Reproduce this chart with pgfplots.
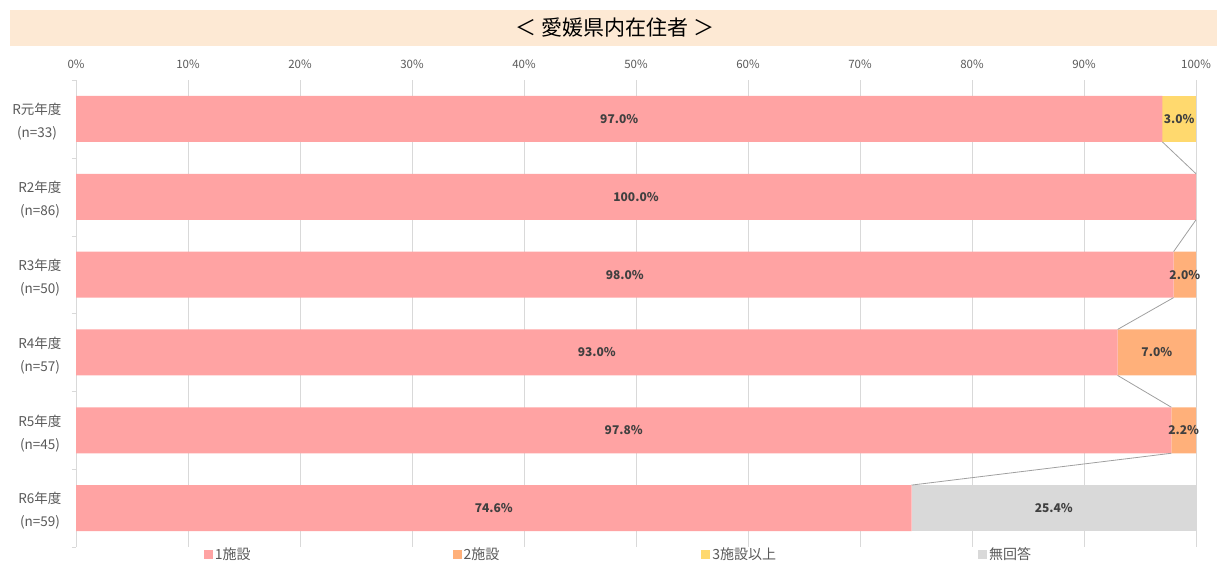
\documentclass[border=0pt]{standalone}
\usepackage{fontspec}
\setmainfont{Noto Sans CJK JP}
\usepackage{pgfplots}
\pgfplotsset{compat=1.18}
\usepackage{pgfplotstable}
\definecolor{c1}{HTML}{FFA3A3}
\definecolor{c2}{HTML}{FFB07A}
\definecolor{c3}{HTML}{FFD96E}
\definecolor{c4}{HTML}{D9D9D9}
\definecolor{banner}{HTML}{FDE9D4}
\definecolor{txt}{HTML}{595959}
\definecolor{lab}{HTML}{404040}
\definecolor{gridc}{HTML}{D9D9D9}
\definecolor{serl}{HTML}{A0A0A0}
\pgfplotsset{/pgf/number format/assume math mode=true}
\pgfplotstableread{
y a b c d
0 97 0 3 0
1 100 0 0 0
2 98 2 0 0
3 93 7 0 0
4 97.8 2.2 0 0
5 74.6 0 0 25.4
}\datatab
\pgfplotsset{
  seg/.style={
    fill=#1, draw=none, point meta=explicit,
    nodes near coords={\pgfmathfloatifflags{\pgfplotspointmeta}{0}{}{\pgfmathprintnumber[fixed,fixed zerofill,precision=1]{\pgfplotspointmeta}\%}},
    every node near coord/.append style={anchor=center},
  },
}
\begin{document}
\begin{tikzpicture}[x=1pt,y=1pt]
\fill[banner] (10,517) rectangle (1217,553);
\node[font=\fontsize{21}{23}\selectfont, text=black] at (615,535) {＜ 愛媛県内在住者 ＞};
\begin{axis}[
  at={(76pt,16pt)}, anchor=south west, scale only axis,
  width=1120pt, height=467pt,
  xbar stacked, bar width=46pt, y dir=reverse,
  xmin=0, xmax=100, ymin=-0.5, ymax=5.5,
  xtick={0,10,...,100}, xticklabel={\pgfmathprintnumber{\tick}\%}, xticklabel pos=upper,
  xticklabel style={font=\fontsize{11.5}{13}\selectfont, text=txt, yshift=8pt},
  ytick={0,...,5},
  yticklabels={{R元年度\\(n=33)},{R2年度\\(n=86)},{R3年度\\(n=50)},{R4年度\\(n=57)},{R5年度\\(n=45)},{R6年度\\(n=59)}},
  yticklabel style={align=center, font=\fontsize{13.5}{23}\selectfont, text=txt, xshift=-11pt, yshift=-3pt},
  minor ytick={-0.5,0.5,...,5.5},
  ytick pos=left, tick align=outside, major tick length=0pt, minor tick length=4pt,
  minor tick style={gridc},
  xmajorgrids, grid style={gridc, line width=0.8pt},
  separate axis lines, x axis line style={draw=none}, y axis line style={gridc, line width=0.8pt},
  nodes near coords style={font=\bfseries\fontsize{12}{14}\selectfont, text=lab},
  legend image code/.code={\path[#1] (0pt,-4.5pt) rectangle (9pt,4.5pt);},
  legend style={draw=none, fill=none, at={(0.114,-0.016)}, anchor=west,
    font=\fontsize{14}{16}\selectfont, text=txt, inner sep=0pt,
    /tikz/every even column/.append style={column sep=200pt}},
  legend columns=4, legend cell align=left,
]
\addplot[seg=c1] table[x=a, y=y, meta=a] {\datatab};
\addlegendentry{1施設}
\addplot[seg=c2] table[x=b, y=y, meta=b] {\datatab};
\addlegendentry{2施設}
\addplot[seg=c3] table[x=c, y=y, meta=c] {\datatab};
\addlegendentry{3施設以上}
\addplot[seg=c4] table[x=d, y=y, meta=d] {\datatab};
\addlegendentry{無回答}
\end{axis}
\begin{axis}[
  at={(76pt,16pt)}, anchor=south west, scale only axis,
  width=1120pt, height=467pt, y dir=reverse,
  xmin=0, xmax=100, ymin=-0.5, ymax=5.5, hide axis,
]
\addplot[serl, line width=0.8pt] coordinates {(97,0.2955) (100,0.7045)};
\addplot[serl, line width=0.8pt] coordinates {(100,1.2955) (98,1.7045)};
\addplot[serl, line width=0.8pt] coordinates {(98,2.2955) (93,2.7045)};
\addplot[serl, line width=0.8pt] coordinates {(93,3.2955) (97.8,3.7045)};
\addplot[serl, line width=0.8pt] coordinates {(97.8,4.2955) (74.6,4.7045)};
\addplot[serl, line width=0.8pt] coordinates {(100,1.2955) (100,1.7045)};
\addplot[serl, line width=0.8pt] coordinates {(100,2.2955) (100,2.7045)};
\addplot[serl, line width=0.8pt] coordinates {(100,3.2955) (100,3.7045)};
\end{axis}
\pgfresetboundingbox
\path (0,0) rectangle (1217,563);
\end{tikzpicture}
\end{document}
